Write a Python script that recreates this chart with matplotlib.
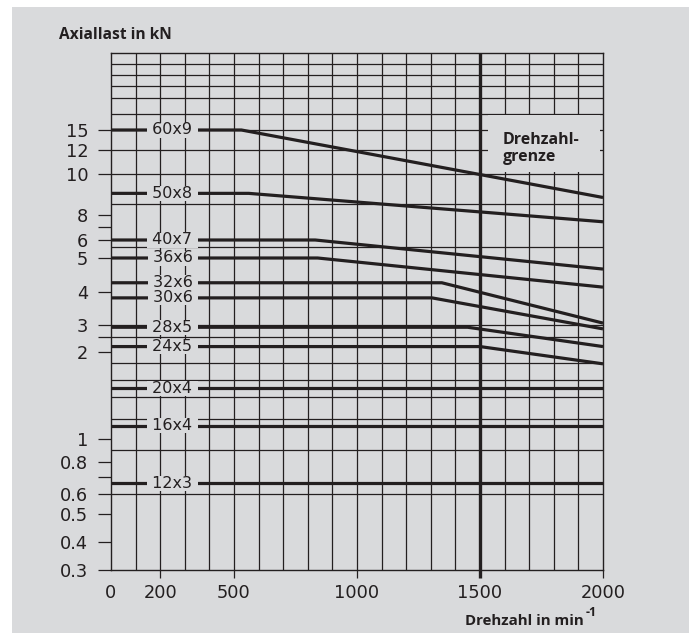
import numpy as np
import matplotlib.pyplot as plt
from matplotlib.patches import Rectangle

# thread sizes and their axial load curves (kN) vs speed (min^-1)
sizes = ["60x9", "50x8", "40x7", "36x6", "32x6", "30x6",
         "28x5", "24x5", "20x4", "16x4", "12x3"]
load_flat = [15, 9, 6, 5, 4.25, 3.8, 2.9, 2.17, 1.5, 1.11, 0.66]
rpm_knee = [530, 560, 830, 840, 1345, 1305, 1450, 1500, 2000, 2000, 2000]
load_2000 = [8.8, 7.4, 4.65, 4.13, 3.05, 2.83, 2.17, 1.82, 1.5, 1.11, 0.66]

y_ticks = [15, 12, 10, 8, 6, 5, 4, 3, 2, 1, 0.8, 0.6, 0.5, 0.4, 0.3]
y_tick_labels = ["15", "12", "10", "8", "6", "5", "4", "3", "2",
                 "1", "0.8", "0.6", "0.5", "0.4", "0.3"]
y_minor = [7, 2.5, 0.7]
x_ticks = [0, 200, 500, 1000, 1500, 2000]
rpm_limit = 1500

# the printed chart uses a hand-drawn, only roughly logarithmic load axis:
# anchor values and their heights (px above the 0.3 line)
kn_anchor = [0.3, 0.4, 0.5, 0.6, 0.8, 1, 2, 3, 4, 5, 6, 8, 10, 12, 15, 30]
anchor_px = [0, 28, 56, 76, 108, 131, 218, 245, 278, 312, 330, 355, 396,
             420, 440, 517]
log_anchor = np.log10(kn_anchor)

h_grid = [27.2, 24.6, 22.3, 20, 17.3, 15, 12, 10, 8.5, 5.6, 3, 2.5,
          1.83, 1.6, 1.4, 1.17, 0.9, 0.6]


def fwd(v):
    v = np.clip(np.asarray(v, dtype=float), 1e-3, None)
    return np.interp(np.log10(v), log_anchor, anchor_px)


def inv(p):
    return 10 ** np.interp(p, anchor_px, log_anchor)


bg = "#d9dadc"
ink = "#231f20"

fig = plt.figure(figsize=(6.89, 6.33), dpi=100)
fig.patch.set_facecolor("white")
fig.add_artist(Rectangle((12 / 689, 0), 1, 1 - 7 / 633, transform=fig.transFigure,
                         facecolor=bg, edgecolor="none", zorder=-10))

ax = fig.add_axes([111 / 689, 63 / 633, 492 / 689, 517 / 633])
ax.set_facecolor(bg)
ax.set_yscale("function", functions=(fwd, inv))
ax.set_xlim(0, 2000)
ax.set_ylim(0.3, 30)

# grid
for g in h_grid:
    ax.axhline(g, color=ink, lw=0.9, zorder=1)
for r in range(100, 2000, 100):
    if r == rpm_limit:
        ax.axvline(r, color=ink, lw=2.4, zorder=3)
    else:
        ax.axvline(r, color=ink, lw=0.9, zorder=1)

# curves
for name, flat, knee, end in zip(sizes, load_flat, rpm_knee, load_2000):
    ax.plot([0, knee, 2000], [flat, flat, end], color=ink, lw=2.3,
            solid_capstyle="butt", zorder=2)
    ax.text(250, flat, " " + name + " ", ha="center", va="center",
            fontsize=11.5, color=ink,
            bbox=dict(boxstyle="square,pad=0", fc=bg, ec="none"), zorder=4)

# speed limit label
ax.add_patch(Rectangle((0.766, 0.770), 0.228, 0.110, transform=ax.transAxes,
                       facecolor=bg, edgecolor="none", zorder=3.5))
ax.text(0.797, 0.848, "Drehzahl-\ngrenze", transform=ax.transAxes,
        ha="left", va="top", fontsize=11.5, fontweight="bold",
        family="Open Sans", color=ink, linespacing=1.1, zorder=5)

# axes
for s in ax.spines.values():
    s.set_color(ink)
    s.set_linewidth(1.0)

ax.set_yticks(y_ticks)
ax.set_yticklabels(y_tick_labels)
ax.set_yticks(y_minor, minor=True)
ax.tick_params(axis="y", which="both", length=9.4, width=0.9, pad=7,
               labelsize=12.8, colors=ink, direction="out")
ax.set_xticks(x_ticks)
ax.set_xticklabels([str(t) for t in x_ticks])
ax.xaxis.set_minor_locator(plt.NullLocator())
ax.tick_params(axis="x", length=5.8, width=0.9, pad=4.5, labelsize=12.8,
               colors=ink, direction="out")
for t in ax.xaxis.get_major_ticks():
    if t.get_loc() == 0:
        t.tick1line.set_visible(False)
    if t.get_loc() == rpm_limit:
        t.tick1line.set_markeredgewidth(2.4)

fig.text(59 / 689, 1 - 39 / 633, "Axiallast in kN", ha="left", va="baseline",
         fontsize=11.2, fontweight="bold", family="Open Sans", color=ink)
fig.text(465 / 689, 1 - 625 / 633, "Drehzahl in min", ha="left", va="baseline",
         fontsize=10.8, fontweight="bold", family="Open Sans", color=ink)
fig.text(586 / 689, 1 - 616 / 633, "-1", ha="left", va="baseline",
         fontsize=9, fontweight="bold", family="Open Sans", color=ink)

fig.savefig("out.png", dpi=100)
